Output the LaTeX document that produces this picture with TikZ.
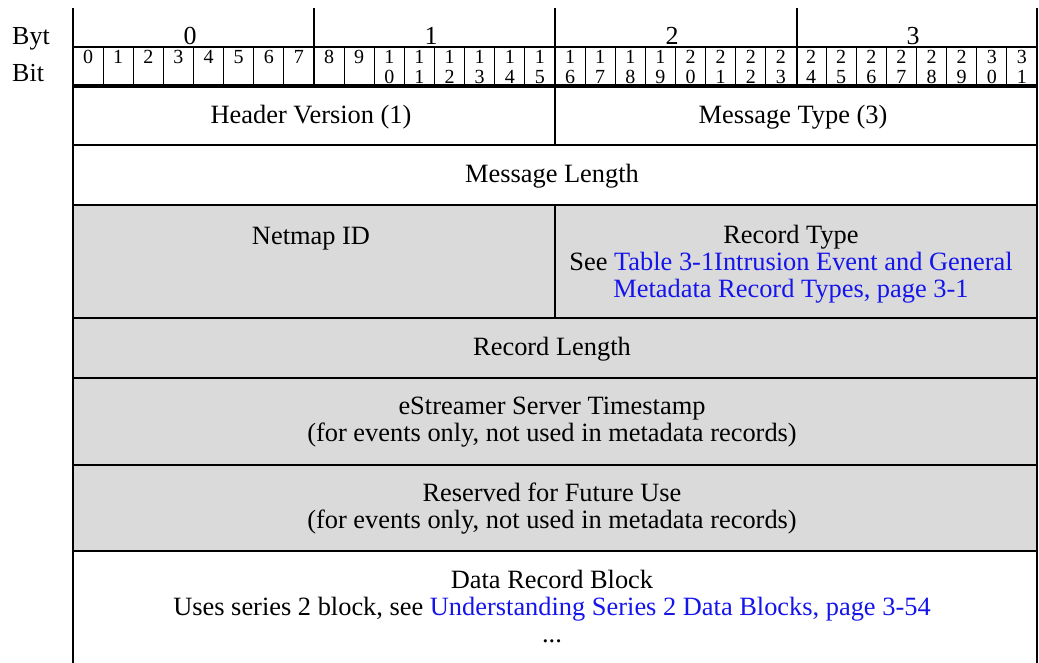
\documentclass[tikz,border=0pt]{standalone}
\usepackage{fontspec}
\setmainfont{Liberation Serif}
\definecolor{cellgray}{RGB}{218,218,218}
\definecolor{linkblue}{RGB}{20,20,235}
\begin{document}
\begin{tikzpicture}[x=1pt,y=-1pt,
  txt/.style={font=\fontsize{26.4}{27}\selectfont, align=center, inner sep=0pt},
  lbl/.style={font=\fontsize{26}{26.5}\selectfont, inner sep=0pt},
  bitnum/.style={font=\fontsize{20}{19.5}\selectfont, align=center, inner sep=0pt, anchor=north},
  rowline/.style={line width=2pt},
  thinrow/.style={line width=1.6pt},
  frameline/.style={line width=2.6pt},
  bitline/.style={line width=1pt},
  heavyline/.style={line width=4pt}]
\useasboundingbox (0,0) rectangle (1039,663);
% gray band
\fill[cellgray] (73,205) rectangle (1037,551);
% header labels
\node[lbl, anchor=base west] (byt) at (12,45) {Byt};
\node[lbl, anchor=base west] (bit) at (12,82) {Bit};
\foreach \b/\x in {0/190,1/431,2/672,3/913}{
  \node[lbl, anchor=base] (byte\b) at (\x,45) {\b};
}
% bit cells
\foreach \i in {0,...,31}{
  \pgfmathsetmacro{\cx}{73+30.125*\i+15.06}
  \pgfmathtruncatemacro{\tens}{\i/10}
  \pgfmathtruncatemacro{\ones}{\i-10*\tens}
  \node[bitnum] (bitn\i) at (\cx,50) {\ifnum\i<10 \strut\i\else\strut\tens\\\strut\ones\fi};
}
\foreach \i in {1,...,31}{
  \pgfmathsetmacro{\bx}{73+30.125*\i}
  \draw[bitline] (\bx,47) -- (\bx,85);
}
% byte dividers
\foreach \x in {314,797}{
  \draw[frameline] (\x,8) -- (\x,86);
}
\draw[frameline] (555,8) -- (555,145);
\draw[frameline] (555,205) -- (555,318);
% horizontal lines
\draw[rowline] (73,47) -- (1037,47);
\draw[heavyline] (73,86) -- (1037,86);
\draw[rowline] (73,145) -- (1037,145);
\draw[rowline] (73,205) -- (1037,205);
\draw[rowline] (73,318) -- (1037,318);
\draw[thinrow] (73,378) -- (1037,378);
\draw[rowline] (73,465) -- (1037,465);
\draw[rowline] (73,551) -- (1037,551);
% outer frame
\draw[frameline] (73,8) -- (73,663);
\draw[frameline] (1037,8) -- (1037,663);
% field texts
\node[txt] (hver) at (311,118) {\strut Header Version (1)};
\node[txt] (mtype) at (793,118) {\strut Message Type (3)};
\node[txt] (mlen) at (552,177) {\strut Message Length};
\node[txt] (netmap) at (311,239) {\strut Netmap ID};
\node[txt] (rtype) at (791,265) {\strut Record Type\\\strut See \textcolor{linkblue}{Table 3-1Intrusion Event and General}\\\strut\textcolor{linkblue}{Metadata Record Types, page 3-1}};
\node[txt] (rlen) at (552,350) {\strut Record Length};
\node[txt] (tstamp) at (552,423) {\strut eStreamer Server Timestamp\\\strut(for events only, not used in metadata records)};
\node[txt] (resv) at (552,510) {\strut Reserved for Future Use\\\strut(for events only, not used in metadata records)};
\node[txt] (block) at (552,610) {\strut Data Record Block\\\strut Uses series 2 block, see \textcolor{linkblue}{Understanding Series 2 Data Blocks, page 3-54}\\\strut ...};
\end{tikzpicture}
\end{document}
